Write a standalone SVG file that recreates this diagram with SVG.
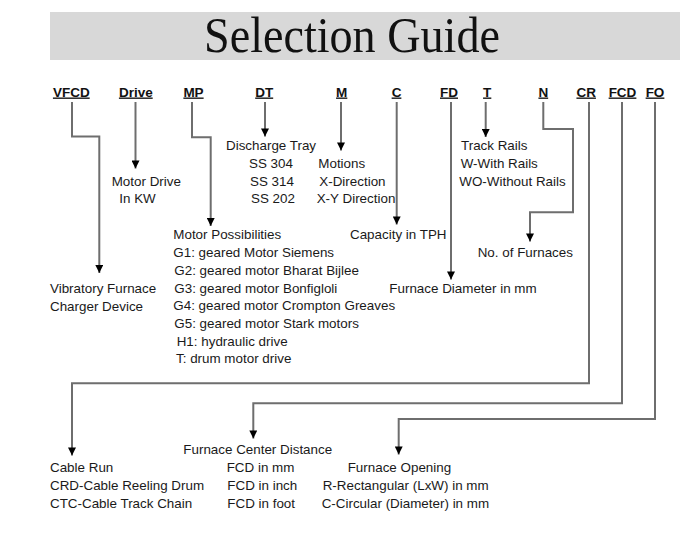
<svg xmlns="http://www.w3.org/2000/svg" width="700" height="536" viewBox="0 0 700 536">
<defs>
<marker id="ah" viewBox="0 0 10 10" refX="10" refY="5" markerWidth="4.2" markerHeight="4" markerUnits="strokeWidth" orient="auto">
<path d="M0,0 L10,5 L0,10 Z" fill="#000"/>
</marker>
<style>
.hd{font-family:"Liberation Sans",Arial,sans-serif;font-size:13.5px;font-weight:bold;text-decoration:underline;fill:#111;text-anchor:middle}
.t{font-family:"Liberation Sans",Arial,sans-serif;font-size:13.4px;fill:#1a1a1a}
.c{fill:none;stroke:#6e6e6e;stroke-width:2}
</style>
</defs>
<rect width="700" height="536" fill="#fff"/>
<g id="title">
<rect x="50" y="12" width="630" height="48" fill="#d8d8d8"/>
<text x="204" y="52" font-family="Liberation Serif,serif" font-size="50" textLength="296" lengthAdjust="spacingAndGlyphs" fill="#111">Selection Guide</text>
</g>
<g id="connectors">
<path class="c" d="M72,102 V136.5 H99.3 V273" marker-end="url(#ah)"/>
<path class="c" d="M135.5,102 V168.5" marker-end="url(#ah)"/>
<path class="c" d="M192,102 V137.3 H210.7 V226" marker-end="url(#ah)"/>
<path class="c" d="M265,102 V136.5" marker-end="url(#ah)"/>
<path class="c" d="M341,102 V150.5" marker-end="url(#ah)"/>
<path class="c" d="M396.7,102 V224.5" marker-end="url(#ah)"/>
<path class="c" d="M451,102 V279.5" marker-end="url(#ah)"/>
<path class="c" d="M485.7,102 V137" marker-end="url(#ah)"/>
<path class="c" d="M543.3,102 V129 H573 V212.3 H530 V241.5" marker-end="url(#ah)"/>
<path class="c" d="M589,102 V383.3 H72 V455.5" marker-end="url(#ah)"/>
<path class="c" d="M622,102 V403.3 H253.3 V438.5" marker-end="url(#ah)"/>
<path class="c" d="M655,102 V419 H398.7 V454.5" marker-end="url(#ah)"/>
</g>
<g id="headers">
<text class="hd" x="71.3" y="96.5">VFCD</text>
<text class="hd" x="135.8" y="96.5">Drive</text>
<text class="hd" x="193.5" y="96.5">MP</text>
<text class="hd" x="264.2" y="96.5">DT</text>
<text class="hd" x="341.7" y="96.5">M</text>
<text class="hd" x="396.5" y="96.5">C</text>
<text class="hd" x="449" y="96.5">FD</text>
<text class="hd" x="487.2" y="96.5">T</text>
<text class="hd" x="543.3" y="96.5">N</text>
<text class="hd" x="586.2" y="96.5">CR</text>
<text class="hd" x="622.5" y="96.5">FCD</text>
<text class="hd" x="655" y="96.5">FO</text>
</g>
<g id="vfcd">
<text class="t" x="50" y="293.3">Vibratory Furnace</text>
<text class="t" x="50" y="311">Charger Device</text>
</g>
<g id="drive">
<text class="t" x="111.7" y="185.7">Motor Drive</text>
<text class="t" x="119.3" y="203.3">In KW</text>
</g>
<g id="mp">
<text class="t" x="173.3" y="239.3">Motor Possibilities</text>
<text class="t" x="173.3" y="257.2">G1: geared Motor Siemens</text>
<text class="t" x="174.3" y="275">G2: geared motor Bharat Bijlee</text>
<text class="t" x="174.3" y="292.7">G3: geared motor Bonfigloli</text>
<text class="t" x="173.3" y="310.4">G4: geared motor Crompton Greaves</text>
<text class="t" x="174.3" y="328">G5: geared motor Stark motors</text>
<text class="t" x="176.7" y="345.7">H1: hydraulic drive</text>
<text class="t" x="176" y="363.3">T: drum motor drive</text>
</g>
<g id="dt">
<text class="t" x="226" y="150">Discharge Tray</text>
<text class="t" x="249" y="167.7">SS 304</text>
<text class="t" x="250" y="185.7">SS 314</text>
<text class="t" x="251" y="203.3">SS 202</text>
</g>
<g id="m">
<text class="t" x="318.3" y="167.7">Motions</text>
<text class="t" x="319.3" y="185.7">X-Direction</text>
<text class="t" x="316.7" y="203.3">X-Y Direction</text>
</g>
<g id="c">
<text class="t" x="350" y="239.3">Capacity in TPH</text>
</g>
<g id="fd">
<text class="t" x="389.3" y="293.3">Furnace Diameter in mm</text>
</g>
<g id="t">
<text class="t" x="461" y="150">Track Rails</text>
<text class="t" x="460.7" y="167.7">W-With Rails</text>
<text class="t" x="459.3" y="185.5">WO-Without Rails</text>
</g>
<g id="n">
<text class="t" x="477.7" y="257.3">No. of Furnaces</text>
</g>
<g id="cr">
<text class="t" x="50" y="472.3">Cable Run</text>
<text class="t" x="50" y="490">CRD-Cable Reeling Drum</text>
<text class="t" x="50" y="507.7">CTC-Cable Track Chain</text>
</g>
<g id="fcd">
<text class="t" x="183.3" y="454.3">Furnace Center Distance</text>
<text class="t" x="226.7" y="472.3">FCD in mm</text>
<text class="t" x="227.3" y="490">FCD in inch</text>
<text class="t" x="227.3" y="507.7">FCD in foot</text>
</g>
<g id="fo">
<text class="t" x="347.7" y="472.3">Furnace Opening</text>
<text class="t" x="322.7" y="490">R-Rectangular (LxW) in mm</text>
<text class="t" x="321.7" y="507.7">C-Circular (Diameter) in mm</text>
</g>
</svg>
